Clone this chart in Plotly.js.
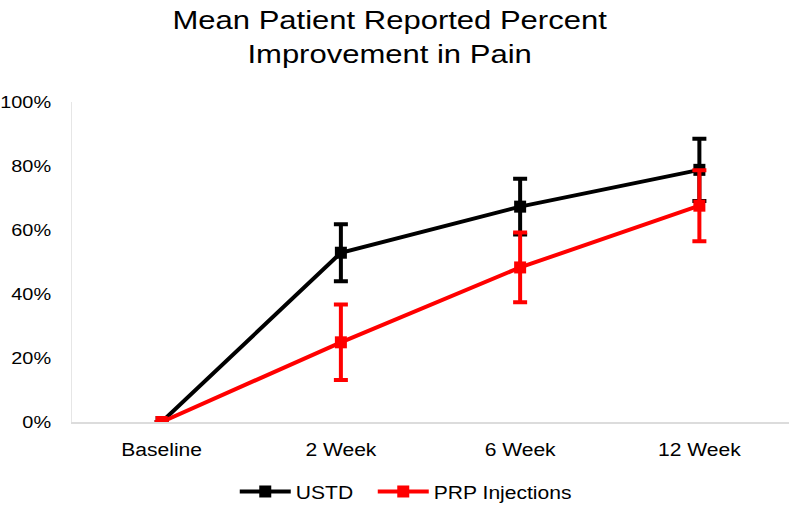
<!DOCTYPE html>
<html><head><meta charset="utf-8">
<script src="https://cdn.plot.ly/plotly-3.0.1.min.js"></script>
<style>html,body{margin:0;padding:0;background:#fff}</style>
</head><body><div id="chart" style="width:791px;height:507px"></div>
<script>
var categories = ["Baseline", "2 Week", "6 Week", "12 Week"];
var ustdMean = [0, 0.529, 0.673, 0.788];
var ustdErr = [0, 0.089, 0.087, 0.097];
var prpMean = [0, 0.249, 0.483, 0.676];
var prpErr = [0, 0.118, 0.109, 0.111];
var yTickVals = [0, 0.2, 0.4, 0.6, 0.8, 1.0];
var yTickText = ["0%", "20%", "40%", "60%", "80%", "100%"];
var chartTitle = "Mean Patient Reported Percent<br>Improvement in Pain";

var traces = [
  {x: categories, y: ustdMean, name: "USTD", type: "scatter", mode: "lines+markers",
   line: {color: "#000000", width: 4}, marker: {symbol: "square", size: 12, color: "#000000"},
   error_y: {type: "data", array: ustdErr, visible: true, color: "#000000", thickness: 4, width: 7}},
  {x: categories, y: prpMean, name: "PRP Injections", type: "scatter", mode: "lines+markers",
   line: {color: "#ff0000", width: 4}, marker: {symbol: "square", size: 12, color: "#ff0000"},
   error_y: {type: "data", array: prpErr, visible: true, color: "#ff0000", thickness: 4, width: 7}}
];

var layout = {
  width: 791, height: 507,
  margin: {l: 72, r: 2, t: 102, b: 85},
  paper_bgcolor: "#fff", plot_bgcolor: "#fff",
  font: {family: "Liberation Sans, Arial, sans-serif", color: "#000"},
  annotations: [{text: chartTitle, xref: "paper", yref: "paper", x: 0.443, xanchor: "center",
    y: 1.309, yanchor: "top", showarrow: false, font: {size: 26.5, color: "#000"}, align: "center"}],
  xaxis: {type: "category", range: [-0.5, 3.5], showgrid: false, showline: true, linecolor: "#dcdcdc", linewidth: 2,
    ticks: "", tickfont: {size: 18, color: "#000"}, zeroline: false, ticklabelstandoff: 10, automargin: false},
  yaxis: {range: [0, 1], tickvals: yTickVals, ticktext: yTickText, showgrid: false, showline: true,
    linecolor: "#e6e6e6", linewidth: 1.5, ticks: "outside", ticklen: 16, tickcolor: "rgba(0,0,0,0)",
    tickfont: {size: 17, color: "#000"}, zeroline: false, automargin: false},
  showlegend: true,
  legend: {orientation: "h", x: 0.227, xanchor: "left", yref: "container", y: 0.03, yanchor: "middle",
    itemwidth: 51, entrywidth: 72, entrywidthmode: "pixels", font: {size: 18, color: "#000"}}
};

function stretchText(k) {
  document.querySelectorAll('#chart svg text').forEach(function (t) {
    var before = t.getBBox();
    if (before.width <= 0) return;
    var lines = t.querySelectorAll('tspan.line');
    var targets = lines.length ? Array.prototype.slice.call(lines) : [t];
    targets.forEach(function (el) {
      var L = el.getComputedTextLength();
      if (L > 0) {
        el.setAttribute('textLength', (L * k).toFixed(2));
        el.setAttribute('lengthAdjust', 'spacingAndGlyphs');
      }
    });
    var after = t.getBBox();
    var anchor = t.getAttribute('text-anchor') || window.getComputedStyle(t).textAnchor || 'start';
    var dx;
    if (anchor === 'end') dx = (before.x + before.width) - (after.x + after.width);
    else if (anchor === 'middle') dx = (before.x + before.width / 2) - (after.x + after.width / 2);
    else dx = before.x - after.x;
    if (Math.abs(dx) > 0.3) {
      var tr = t.getAttribute('transform') || '';
      t.setAttribute('transform', (tr + ' translate(' + dx.toFixed(2) + ',0)').trim());
    }
  });
  document.querySelectorAll('#chart .legend [clip-path]').forEach(function (el) {
    el.removeAttribute('clip-path');
  });
}

Plotly.newPlot("chart", traces, layout, {displayModeBar: false, staticPlot: true}).then(function () {
  stretchText(1.17);
});
</script></body></html>
